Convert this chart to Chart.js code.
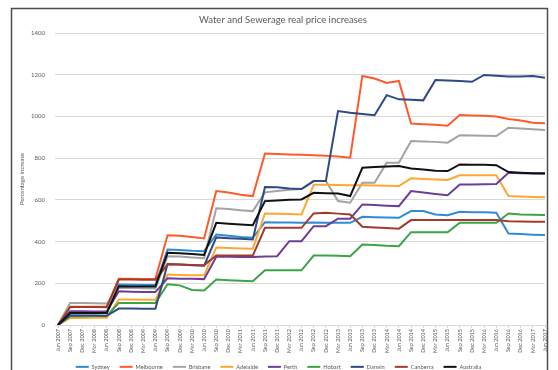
<!DOCTYPE html>
<html>
<head>
<meta charset="utf-8">
<script src="https://cdn.jsdelivr.net/npm/chart.js@4/dist/chart.umd.min.js"></script>
<style>
  html, body { margin: 0; padding: 0; background: #ffffff; }
  #c { display: block; }
</style>
</head>
<body>
<canvas id="c" width="558" height="370"></canvas>
<script>
// Quarterly periods, June 2007 to June 2017
const quarters = [
  'Jun 2007','Sep 2007','Dec 2007','Mar 2008','Jun 2008','Sep 2008','Dec 2008','Mar 2009',
  'Jun 2009','Sep 2009','Dec 2009','Mar 2010','Jun 2010','Sep 2010','Dec 2010','Mar 2011',
  'Jun 2011','Sep 2011','Dec 2011','Mar 2012','Jun 2012','Sep 2012','Dec 2012','Mar 2013',
  'Jun 2013','Sep 2013','Dec 2013','Mar 2014','Jun 2014','Sep 2014','Dec 2014','Mar 2015',
  'Jun 2015','Sep 2015','Dec 2015','Mar 2016','Jun 2016','Sep 2016','Dec 2016','Mar 2017',
  'Jun 2017'
];

// Cumulative real price increase (%), by city
const sydney = [0, 55, 56, 56, 57, 194, 193, 192, 192, 362, 360, 356, 354, 434, 428, 422, 418,
  493, 492, 491, 490, 491, 490, 490, 490, 519, 517, 515, 514, 546, 546, 530, 526,
  543, 541, 540, 538, 439, 436, 433, 431];
const melbourne = [0, 88, 88, 87, 87, 222, 222, 221, 221, 430, 428, 422, 415, 642, 635, 625, 618,
  822, 820, 818, 816, 814, 812, 808, 802, 1194, 1182, 1160, 1170, 966, 963, 960, 955,
  1007, 1005, 1003, 1000, 988, 980, 970, 967];
const brisbane = [0, 106, 105, 104, 103, 178, 177, 176, 175, 330, 328, 324, 320, 560, 556, 550, 546,
  636, 642, 648, 652, 690, 690, 594, 586, 682, 682, 778, 778, 882, 880, 878, 874,
  910, 908, 907, 906, 946, 942, 938, 935];
const adelaide = [0, 34, 34, 35, 35, 122, 122, 121, 121, 242, 240, 238, 238, 372, 369, 367, 366,
  535, 533, 532, 530, 672, 672, 671, 670, 670, 669, 668, 666, 703, 700, 698, 695,
  718, 718, 718, 718, 618, 616, 614, 613];
const perth = [0, 66, 66, 65, 65, 162, 160, 158, 158, 224, 222, 222, 220, 327, 327, 326, 326,
  328, 330, 402, 402, 474, 474, 510, 510, 578, 575, 572, 570, 642, 635, 628, 622,
  674, 674, 675, 676, 730, 728, 726, 725];
const hobart = [0, 42, 42, 43, 43, 106, 106, 105, 105, 195, 190, 168, 166, 218, 215, 212, 210,
  263, 263, 262, 262, 333, 333, 332, 330, 386, 384, 380, 378, 445, 445, 445, 445,
  490, 490, 490, 490, 535, 530, 528, 527];
const darwin = [0, 46, 45, 45, 44, 79, 79, 78, 78, 292, 290, 287, 284, 420, 416, 413, 410,
  662, 660, 655, 652, 690, 690, 1026, 1018, 1012, 1006, 1102, 1082, 1080, 1077, 1175, 1172,
  1170, 1166, 1199, 1195, 1191, 1192, 1194, 1186];
const canberra = [0, 86, 86, 86, 85, 218, 218, 217, 217, 290, 290, 288, 287, 333, 333, 333, 333,
  466, 466, 466, 466, 535, 538, 534, 530, 471, 468, 465, 462, 503, 503, 503, 503,
  503, 503, 503, 503, 498, 496, 495, 495];
const australia = [0, 58, 58, 57, 57, 186, 185, 184, 184, 346, 344, 340, 336, 490, 486, 482, 478,
  594, 597, 600, 602, 634, 632, 630, 618, 754, 758, 760, 762, 750, 745, 740, 738,
  770, 768, 768, 766, 733, 730, 728, 727];

const seriesNames = ['Sydney', 'Melbourne', 'Brisbane', 'Adelaide', 'Perth', 'Hobart', 'Darwin', 'Canberra', 'Australia'];
const seriesValues = [sydney, melbourne, brisbane, adelaide, perth, hobart, darwin, canberra, australia];
const seriesColours = ['#2f8bd6', '#ff5a2c', '#a3a3a3', '#ffa733', '#6b3f98', '#3aa448', '#2e4a86', '#a13b2b', '#111111'];

const FONT = 'Lato, "Open Sans", sans-serif';
const TEXT = '#595959';
const GRID = '#d9d9d9';

const datasets = seriesNames.map((name, i) => ({
  label: name,
  data: seriesValues[i],
  borderColor: seriesColours[i],
  backgroundColor: seriesColours[i],
  borderWidth: 2,
  pointRadius: 0,
  tension: 0,
  fill: false,
  order: seriesNames.length - i   // later series sit on top
}));

// Outer frame, white background and chart heading
const framePlugin = {
  id: 'frame',
  beforeDraw(chart) {
    const ctx = chart.ctx;
    ctx.save();
    ctx.fillStyle = '#ffffff';
    ctx.fillRect(0, 0, chart.width, chart.height);
    ctx.restore();
  },
  afterDraw(chart) {
    const ctx = chart.ctx;
    ctx.save();
    ctx.strokeStyle = '#4d4d4d';
    ctx.lineWidth = 1.5;
    ctx.beginPath();
    ctx.moveTo(11.5, 372);
    ctx.lineTo(11.5, 8.5);
    ctx.lineTo(547.5, 8.5);
    ctx.lineTo(547.5, 372);
    ctx.stroke();
    ctx.fillStyle = TEXT;
    ctx.font = '9.5px ' + FONT;
    ctx.textAlign = 'center';
    ctx.textBaseline = 'middle';
    ctx.fillText('Water and Sewerage real price increases', 283, 19.5);
    ctx.restore();
  }
};

// Keep the legend strip compact at the foot of the chart
const legendFitPlugin = {
  id: 'legendFit',
  afterInit(chart) {
    const legend = chart.legend;
    if (!legend) return;
    const fit = legend.fit;
    legend.fit = function () {
      fit.call(this);
      this.height = 16;
    };
  }
};

const baseLabels = Chart.defaults.plugins.legend.labels.generateLabels;

new Chart(document.getElementById('c'), {
  type: 'line',
  data: { labels: quarters, datasets },
  options: {
    responsive: false,
    animation: false,
    layout: { padding: { left: 12, right: 13, top: 33, bottom: 0 } },
    scales: {
      x: {
        grid: { display: true, drawOnChartArea: false, drawTicks: true, tickLength: 3, color: GRID },
        border: { display: true, color: GRID },
        ticks: {
          autoSkip: false, minRotation: 90, maxRotation: 90, padding: 1,
          color: TEXT, font: { family: FONT, size: 5.5 }
        },
        afterFit(scale) { scale.height = 29; }
      },
      y: {
        min: 0, max: 1400,
        grid: { color: GRID, drawTicks: true, tickLength: 3 },
        border: { display: false },
        ticks: {
          stepSize: 200, padding: 10, color: TEXT, font: { family: FONT, size: 6 },
          callback: (v) => String(v)
        },
        title: {
          display: true, text: 'Percentage increase', color: TEXT,
          font: { family: FONT, size: 6 }, padding: { top: 6, bottom: 0 }
        },
        afterFit(scale) { scale.width = 46; }
      }
    },
    plugins: {
      title: { display: false },
      tooltip: { enabled: false },
      legend: {
        position: 'bottom',
        labels: {
          boxWidth: 13, boxHeight: 2, padding: 10, color: TEXT,
          font: { family: FONT, size: 5.7 },
          sort: (a, b) => a.datasetIndex - b.datasetIndex,
          generateLabels(chart) {
            return baseLabels(chart).map(item => Object.assign(item, {
              fillStyle: item.strokeStyle, lineWidth: 0
            }));
          }
        }
      }
    }
  },
  plugins: [framePlugin, legendFitPlugin]
});
</script>
</body>
</html>
